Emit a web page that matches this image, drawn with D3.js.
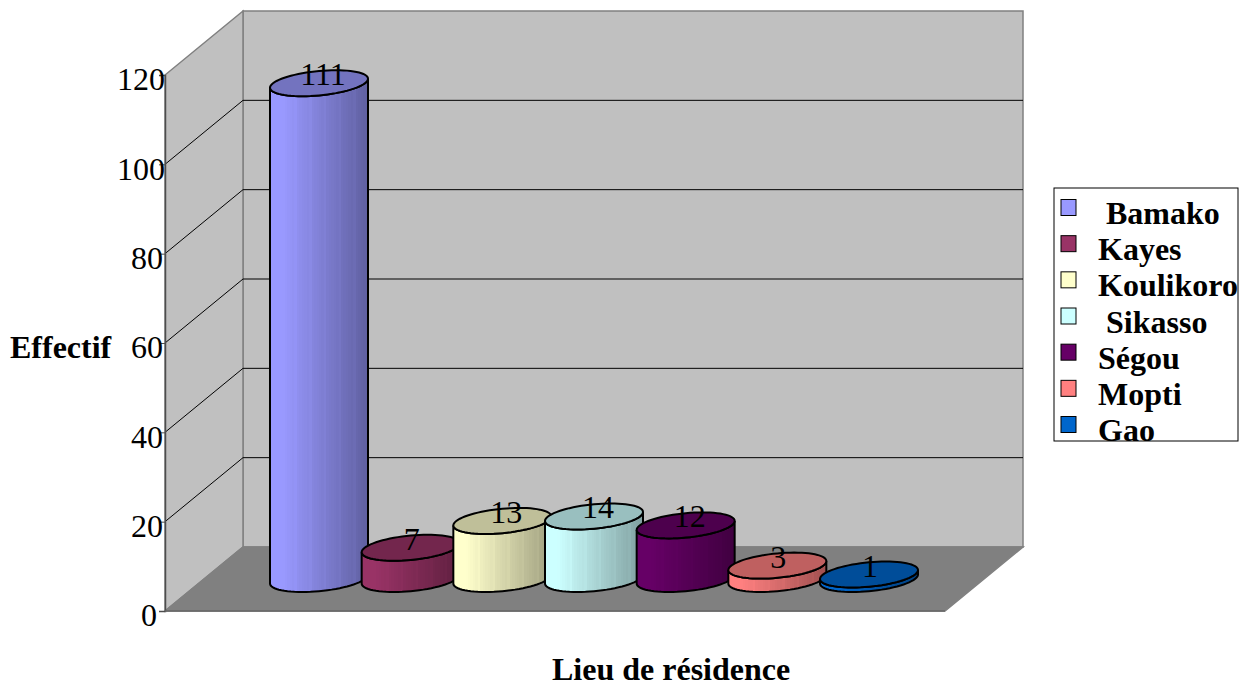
<!DOCTYPE html>
<html lang="fr">
<head>
  <meta charset="UTF-8">
  <title>Effectif par lieu de résidence</title>
  <script src="https://d3js.org/d3.v7.min.js"></script>
  <style>
    body { margin: 0; background: #fff; overflow: hidden; }
    svg { display: block; }
    text { font-family: "Liberation Serif", "Times New Roman", serif; font-size: 32px; fill: #000; }
    .bold { font-weight: bold; }
  </style>
</head>
<body>
<svg width="1248" height="684"></svg>

<script>
const categories = ['Bamako', 'Kayes', 'Koulikoro', 'Sikasso', 'Ségou', 'Mopti', 'Gao'];
const values = [111, 7, 13, 14, 12, 3, 1];
const colors = ['#9999ff', '#993366', '#ffffcc', '#ccffff', '#660066', '#ff8080', '#0066cc'];
const yTicks = [0, 20, 40, 60, 80, 100, 120];
// nbsp keeps the small indent on two of the legend entries
const legendLabels = ['\u00a0Bamako', 'Kayes', 'Koulikoro', '\u00a0Sikasso', 'Ségou', 'Mopti', 'Gao'];

const svg = d3.select('svg');
const defs = svg.append('defs');

// box geometry: front face plus the offset going to the back wall
const frontLeft = 165, frontRight = 945, depthX = 78, depthY = 64;
const y = d3.scaleLinear().domain([0, 120]).range([611, 75]);
const x = d3.scalePoint().domain(categories).range([319, 869]);
const baseY = y(0) - depthY / 2;      // cylinders stand mid-depth on the floor
const unit = y(0) - y(1);

const rx = 49, tilt = 4.5, ry = 12.2;
const ringPoint = (cx, cy, t) => [cx + rx * Math.cos(t), cy - tilt * Math.cos(t) + ry * Math.sin(t)];
const line = d3.line();

function ellipsePath(cx, cy) {
  return line(d3.range(0, 73).map(i => ringPoint(cx, cy, i / 72 * 2 * Math.PI))) + 'Z';
}

function bodyPath(cx, top, base) {
  // down the left side, along the front of the base, back up the right side
  const pts = [ringPoint(cx, top, Math.PI)];
  d3.range(0, 37).forEach(i => pts.push(ringPoint(cx, base, Math.PI - i / 36 * Math.PI)));
  pts.push(ringPoint(cx, top, 0));
  d3.range(0, 37).forEach(i => pts.push(ringPoint(cx, top, i / 36 * Math.PI)));
  return line(pts) + 'Z';
}

// walls and floor
const walls = svg.append('g').attr('stroke', '#808080').attr('stroke-width', 1.5);
walls.append('path').attr('fill', '#c0c0c0')
  .attr('d', line([[frontLeft + depthX, y(0) - depthY], [frontLeft + depthX, y(120) - depthY],
    [frontRight + depthX, y(120) - depthY], [frontRight + depthX, y(0) - depthY]]) + 'Z');
walls.append('path').attr('fill', '#c0c0c0')
  .attr('d', line([[frontLeft, y(0)], [frontLeft, y(120)],
    [frontLeft + depthX, y(120) - depthY], [frontLeft + depthX, y(0) - depthY]]) + 'Z');
walls.append('path').attr('fill', '#808080')
  .attr('d', line([[frontLeft, y(0)], [frontLeft + depthX, y(0) - depthY],
    [frontRight + depthX, y(0) - depthY], [frontRight, y(0)]]) + 'Z');

// gridlines run along the left wall then across the back wall
const grid = svg.append('g').attr('fill', 'none').attr('stroke', '#000').attr('stroke-width', 1);
grid.selectAll('path')
  .data(yTicks.filter(d => d > 0 && d < 120))
  .enter().append('path')
  .attr('d', d => line([[frontLeft, y(d)], [frontLeft + depthX, y(d) - depthY], [frontRight + depthX, y(d) - depthY]]));

const yAxis = d3.axisLeft(y).tickValues(yTicks).tickSize(6).tickPadding(-6).tickFormat(d3.format('d'));
const axisG = svg.append('g').attr('transform', `translate(${frontLeft},0)`).call(yAxis);
axisG.select('.domain').attr('stroke', '#4d4d4d').attr('stroke-width', 1.5);
axisG.selectAll('.tick line').attr('stroke', '#4d4d4d');
// shorter numbers stop a little before the axis line
axisG.selectAll('.tick text')
  .attr('font-family', null).attr('font-size', null)
  .attr('dy', '0.46em')
  .attr('dx', d => d === 0 ? -8 : d < 100 ? -2 : 0);
svg.append('line').attr('x1', frontLeft).attr('x2', frontRight).attr('y1', y(0)).attr('y2', y(0))
  .attr('stroke', '#666').attr('stroke-width', 1.5);

// stepped shading across each cylinder, with the odd lighter stripe
function shade(color, i) {
  const id = 'shade' + i;
  const g = defs.append('linearGradient').attr('id', id);
  const bands = 40;
  d3.range(bands).forEach(b => {
    const t = b / bands;
    let k = t < 0.12 ? 0 : (t - 0.12) / 0.88 * 0.38;
    if (b % 6 === 4) k -= 0.02;
    const c = d3.interpolateRgb(color, '#000')(Math.max(k, 0));
    g.append('stop').attr('offset', t).attr('stop-color', c);
    g.append('stop').attr('offset', (b + 1) / bands).attr('stop-color', c);
  });
  return `url(#${id})`;
}

const cylinders = svg.append('g').attr('stroke', '#000').attr('stroke-width', 2);
categories.forEach((name, i) => {
  const cx = x(name);
  const top = baseY - values[i] * unit;
  cylinders.append('path').attr('fill', shade(colors[i], i)).attr('d', bodyPath(cx, top, baseY));
  cylinders.append('path').attr('fill', d3.interpolateRgb(colors[i], '#000')(0.25)).attr('d', ellipsePath(cx, top));
});

// value labels sit over the cylinder tops
svg.append('g').selectAll('text')
  .data(values)
  .enter().append('text')
  .attr('text-anchor', 'middle')
  .attr('x', (d, i) => x(categories[i]) + (d < 10 ? 1 : 4))
  .attr('y', d => baseY - d * unit + 2)
  .text(d => d);

svg.append('text').attr('class', 'bold').attr('x', 10).attr('y', 358).text('Effectif');
svg.append('text').attr('class', 'bold').attr('x', 552).attr('y', 680).text('Lieu de résidence');

// legend box, entries are cut off by its bottom edge
const legendRow = d3.scaleLinear().domain([0, 6]).range([207.5, 424.5]);
defs.append('clipPath').attr('id', 'legendClip').append('rect')
  .attr('x', 1054).attr('y', 188).attr('width', 184).attr('height', 253);
const legend = svg.append('g');
legend.append('rect').attr('x', 1054).attr('y', 188).attr('width', 184).attr('height', 253)
  .attr('fill', '#fff').attr('stroke', '#000').attr('stroke-width', 1);
const rows = legend.append('g').attr('clip-path', 'url(#legendClip)')
  .selectAll('g').data(legendLabels).enter().append('g');
rows.append('rect')
  .attr('x', 1061).attr('y', (d, i) => legendRow(i) - 8)
  .attr('width', 15).attr('height', 16)
  .attr('fill', (d, i) => colors[i]).attr('stroke', '#000').attr('stroke-width', 1);
rows.append('text').attr('class', 'bold')
  .attr('x', 1098).attr('y', (d, i) => legendRow(i) + 16.5)
  .text(d => d);
</script>
</body>
</html>
